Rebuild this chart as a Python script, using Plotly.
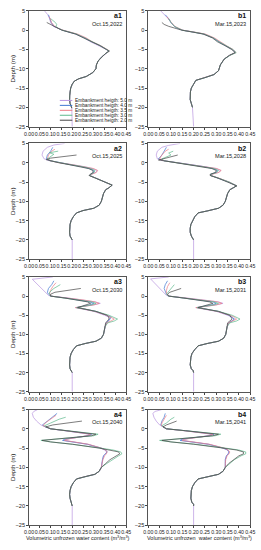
import plotly.graph_objects as go

W, H = 261, 550

HEIGHTS = ["5.0", "4.0", "3.5", "3.0", "2.0"]
LEG_TEXT = ["Embankment heigth: 5.0 m", "Embankment heigth: 4.0 m", "Embankment heigth: 3.5 m",
            "Embankment heigth: 3.0 m", "Embankment heigth: 2.0 m"]
COLORS = ["#B995E0", "#3F78D2", "#EE7C86", "#5DB98C", "#454545"]

PANELS = ["a1", "b1", "a2", "b2", "a3", "b3", "a4", "b4"]
DATES = ["Oct.15,2022", "Mar.15,2023", "Oct.15,2025", "Mar.15,2028",
         "Oct.15,2030", "Mar.15,2031", "Oct.15,2040", "Mar.15,2041"]

X_TICKS = [0.0, 0.05, 0.10, 0.15, 0.20, 0.25, 0.30, 0.35, 0.40, 0.45]
X_TICK_TEXT = ["0.00", "0.05", "0.10", "0.15", "0.20", "0.25", "0.30", "0.35", "0.40", "0.45"]
Y_TICKS = [5, 0, -5, -10, -15, -20, -25]
BOTTOM_D = [-25]
BOTTOM_X = [0.2]

# ---------------- a1 ----------------
A1_TOP = {
    "5.0": ([5, 4.5, 4, 3, 2, 1, 0.5], [0.072, 0.08, 0.087, 0.095, 0.1, 0.112, 0.13]),
    "4.0": ([4, 3, 2, 1, 0.5], [0.09, 0.097, 0.103, 0.115, 0.132]),
    "3.5": ([3.5, 3, 2, 1, 0.5], [0.093, 0.098, 0.104, 0.118, 0.135]),
    "3.0": ([3, 2.5, 2, 1.5, 1, 0.5], [0.1, 0.112, 0.122, 0.128, 0.125, 0.135]),
    "2.0": ([2, 1.5, 1, 0.5], [0.082, 0.098, 0.115, 0.132]),
}
A1_MID_D = [0, -1, -2, -3, -4, -5, -5.4, -6, -7]
A1_MID = {
    "5.0": [0.155, 0.215, 0.255, 0.285, 0.325, 0.358, 0.37, 0.355, 0.335],
    "4.0": [0.155, 0.22, 0.26, 0.29, 0.33, 0.36, 0.372, 0.357, 0.335],
    "3.5": [0.158, 0.225, 0.265, 0.293, 0.332, 0.362, 0.373, 0.357, 0.335],
    "3.0": [0.155, 0.22, 0.258, 0.288, 0.33, 0.36, 0.372, 0.356, 0.335],
    "2.0": [0.152, 0.215, 0.255, 0.287, 0.328, 0.358, 0.37, 0.355, 0.335],
}
A1_TAIL_D = [-8, -9, -10, -11, -12, -12.6, -13.2, -14, -15, -16, -17, -18, -19, -19.6, -20.2]
A1_TAIL_X = [0.32, 0.312, 0.31, 0.295, 0.265, 0.23, 0.21, 0.2, 0.193, 0.19, 0.188, 0.188, 0.19, 0.195, 0.198]

# ---------------- b1 ----------------
B1_TOP = {
    "5.0": ([5, 4, 3, 2, 1, 0.5], [0.055, 0.072, 0.088, 0.1, 0.115, 0.13]),
    "4.0": ([4, 3, 2, 1, 0.5], [0.075, 0.09, 0.1, 0.115, 0.13]),
    "3.5": ([3.5, 3, 2, 1, 0.5], [0.082, 0.09, 0.102, 0.117, 0.132]),
    "3.0": ([3, 2.5, 2, 1, 0.5], [0.09, 0.095, 0.1, 0.115, 0.13]),
    "2.0": ([2, 1.5, 1, 0.5], [0.06, 0.07, 0.09, 0.115]),
}
B1_MID_D = [0, -0.5, -1, -2, -3, -4, -5, -5.8, -6.5]
B1_MID = {
    "5.0": [0.15, 0.2, 0.245, 0.285, 0.31, 0.34, 0.37, 0.385, 0.36],
    "4.0": [0.15, 0.202, 0.248, 0.288, 0.312, 0.342, 0.372, 0.386, 0.36],
    "3.5": [0.152, 0.205, 0.252, 0.292, 0.316, 0.345, 0.374, 0.387, 0.36],
    "3.0": [0.15, 0.2, 0.246, 0.287, 0.312, 0.343, 0.373, 0.388, 0.362],
    "2.0": [0.148, 0.197, 0.242, 0.283, 0.305, 0.338, 0.368, 0.383, 0.358],
}
B1_TAIL_D = [-7.5, -9, -10.5, -11.5, -12.3, -13, -14, -15, -16, -17, -18, -19, -20]
B1_TAIL_X = [0.335, 0.318, 0.31, 0.29, 0.25, 0.21, 0.2, 0.19, 0.186, 0.185, 0.185, 0.19, 0.195]

# ---------------- a2 ----------------
A2_TOP = {
    "5.0": ([5, 4.6, 4, 3, 2, 1, 0.5], [0.165, 0.115, 0.085, 0.065, 0.06, 0.07, 0.095]),
    "4.0": ([4, 3, 2, 1, 0.5], [0.11, 0.1, 0.085, 0.08, 0.1]),
    "3.5": ([3.5, 3, 2, 1, 0.5], [0.12, 0.105, 0.09, 0.085, 0.1]),
    "3.0": ([3, 2.6, 2.2, 1.5, 1, 0.5], [0.135, 0.095, 0.115, 0.1, 0.085, 0.1]),
    "2.0": ([2, 1.6, 1.2, 0.8, 0.5], [0.22, 0.15, 0.1, 0.08, 0.1]),
}
A2_MID_D = [0, -0.5, -1, -1.5, -2, -2.5, -3, -3.3, -4, -5]
A2_MID = {
    "5.0": [0.14, 0.2, 0.255, 0.295, 0.315, 0.31, 0.29, 0.28, 0.31, 0.35],
    "4.0": [0.14, 0.19, 0.24, 0.28, 0.3, 0.3, 0.285, 0.28, 0.31, 0.35],
    "3.5": [0.14, 0.2, 0.258, 0.298, 0.318, 0.312, 0.29, 0.28, 0.31, 0.352],
    "3.0": [0.14, 0.192, 0.245, 0.285, 0.305, 0.302, 0.287, 0.28, 0.31, 0.352],
    "2.0": [0.138, 0.186, 0.235, 0.275, 0.295, 0.297, 0.283, 0.278, 0.308, 0.348],
}
A2_TAIL_D = [-5.8, -6.5, -7, -8, -9, -10, -11, -11.8, -12.4, -13, -14, -15, -16, -17, -18, -19, -19.6, -20]
A2_TAIL_X = [0.385, 0.37, 0.355, 0.345, 0.34, 0.335, 0.325, 0.3, 0.25, 0.22, 0.205, 0.195, 0.19, 0.188, 0.188, 0.19, 0.198, 0.2]

# ---------------- b2 ----------------
B2_TOP = {
    "5.0": ([5, 4.5, 4, 3, 2, 1, 0.5], [0.14, 0.09, 0.06, 0.04, 0.035, 0.04, 0.07]),
    "4.0": ([4, 3, 2, 1, 0.5], [0.08, 0.07, 0.06, 0.045, 0.07]),
    "3.5": ([3.5, 3, 2, 1, 0.5], [0.09, 0.075, 0.06, 0.05, 0.07]),
    "3.0": ([3, 2.5, 2, 1.5, 1, 0.5], [0.11, 0.09, 0.1, 0.08, 0.06, 0.07]),
    "2.0": ([2, 1.5, 1, 0.7, 0.5], [0.13, 0.1, 0.06, 0.045, 0.07]),
}
B2_MID_D = [0, -0.5, -1, -1.5, -2, -2.5, -3, -3.3, -4, -5]
B2_MID = {
    "5.0": [0.13, 0.2, 0.26, 0.3, 0.32, 0.31, 0.28, 0.275, 0.31, 0.355],
    "4.0": [0.13, 0.19, 0.245, 0.285, 0.305, 0.3, 0.275, 0.275, 0.31, 0.355],
    "3.5": [0.13, 0.2, 0.262, 0.302, 0.322, 0.312, 0.28, 0.275, 0.312, 0.357],
    "3.0": [0.13, 0.192, 0.25, 0.29, 0.31, 0.303, 0.277, 0.275, 0.31, 0.357],
    "2.0": [0.128, 0.186, 0.24, 0.28, 0.3, 0.297, 0.273, 0.273, 0.308, 0.352],
}
B2_TAIL_D = [-6, -6.5, -7, -8, -9, -10, -11, -11.8, -12.5, -13, -14, -15, -16, -17, -18, -19, -19.5, -20]
B2_TAIL_X = [0.39, 0.375, 0.36, 0.35, 0.345, 0.34, 0.33, 0.31, 0.26, 0.22, 0.205, 0.195, 0.188, 0.185, 0.185, 0.19, 0.197, 0.2]

# ---------------- a3 ----------------
A3_TOP = {
    "5.0": ([5, 4.4, 0.2], [0.11, 0.015, 0.09]),
    "4.0": ([4, 3, 2, 1, 0.5], [0.115, 0.105, 0.09, 0.085, 0.09]),
    "3.5": ([3.5, 2.5, 1.5, 0.7], [0.125, 0.11, 0.1, 0.095]),
    "3.0": ([3, 2, 1, 0.5], [0.145, 0.115, 0.095, 0.095]),
    "2.0": ([2, 1.5, 1, 0.5], [0.24, 0.17, 0.12, 0.1]),
}
A3_MID_D = [0, -0.5, -1, -1.5, -1.9, -2.3, -2.7, -3, -3.3, -4, -5, -5.5, -6, -6.5, -7]
A3_MID = {
    "5.0": [0.1, 0.18, 0.25, 0.305, 0.33, 0.3, 0.25, 0.215, 0.24, 0.3, 0.35, 0.37, 0.375, 0.37, 0.36],
    "4.0": [0.1, 0.17, 0.235, 0.28, 0.3, 0.28, 0.245, 0.22, 0.25, 0.31, 0.36, 0.38, 0.375, 0.365, 0.358],
    "3.5": [0.1, 0.18, 0.25, 0.305, 0.325, 0.3, 0.25, 0.215, 0.245, 0.305, 0.36, 0.38, 0.395, 0.38, 0.36],
    "3.0": [0.1, 0.17, 0.24, 0.29, 0.31, 0.29, 0.25, 0.22, 0.25, 0.31, 0.37, 0.395, 0.41, 0.395, 0.365],
    "2.0": [0.1, 0.165, 0.225, 0.27, 0.285, 0.265, 0.235, 0.225, 0.25, 0.31, 0.36, 0.37, 0.37, 0.36, 0.355],
}
A3_TAIL_D = [-8, -9, -10, -11, -11.8, -12.4, -13, -14, -15, -16, -17, -18, -19, -19.6, -20]
A3_TAIL_X = [0.352, 0.35, 0.345, 0.335, 0.31, 0.26, 0.22, 0.205, 0.195, 0.19, 0.188, 0.188, 0.19, 0.198, 0.2]

# ---------------- b3 ----------------
B3_TOP = {
    "5.0": ([5, 4.5, 0.2], [0.09, 0.01, 0.08]),
    "4.0": ([4, 3, 2, 1, 0.5], [0.085, 0.075, 0.07, 0.075, 0.08]),
    "3.5": ([3.5, 2.5, 1.5, 0.7], [0.095, 0.085, 0.08, 0.08]),
    "3.0": ([3, 2, 1, 0.5], [0.115, 0.1, 0.085, 0.08]),
    "2.0": ([2, 1.5, 1, 0.5], [0.145, 0.12, 0.095, 0.085]),
}
B3_MID_D = [0, -0.5, -1, -1.5, -1.9, -2.3, -2.7, -3, -3.3, -4, -5, -5.5, -6, -6.5, -7]
B3_MID = {
    "5.0": [0.09, 0.17, 0.25, 0.31, 0.33, 0.3, 0.25, 0.21, 0.235, 0.3, 0.35, 0.37, 0.38, 0.37, 0.355],
    "4.0": [0.09, 0.16, 0.235, 0.285, 0.3, 0.28, 0.24, 0.215, 0.245, 0.31, 0.355, 0.37, 0.38, 0.37, 0.355],
    "3.5": [0.09, 0.17, 0.25, 0.305, 0.325, 0.3, 0.25, 0.21, 0.24, 0.305, 0.36, 0.38, 0.39, 0.375, 0.355],
    "3.0": [0.09, 0.16, 0.24, 0.29, 0.31, 0.29, 0.245, 0.215, 0.245, 0.31, 0.37, 0.39, 0.405, 0.39, 0.36],
    "2.0": [0.09, 0.155, 0.225, 0.27, 0.285, 0.265, 0.235, 0.22, 0.245, 0.31, 0.36, 0.365, 0.37, 0.36, 0.35],
}
B3_TAIL_D = [-8, -9, -10, -11, -11.8, -12.4, -13, -14, -15, -16, -17, -18, -19, -19.5, -20]
B3_TAIL_X = [0.348, 0.345, 0.342, 0.333, 0.31, 0.26, 0.22, 0.205, 0.193, 0.188, 0.185, 0.185, 0.19, 0.198, 0.2]

# ---------------- a4 ----------------
A4_TOP = {
    "5.0": ([5, 4.5, 4, 3, 2, 1, 0.5], [0.04, 0.022, 0.015, 0.02, 0.035, 0.055, 0.075]),
    "4.0": ([4, 3, 2, 1, 0.5], [0.13, 0.11, 0.085, 0.062, 0.075]),
    "3.5": ([3.5, 2.5, 1.5, 0.8], [0.125, 0.1, 0.075, 0.065]),
    "3.0": ([3, 2.5, 1.5, 0.8], [0.17, 0.14, 0.1, 0.072]),
    "2.0": ([2, 1.5, 1, 0.5], [0.245, 0.17, 0.11, 0.078]),
}
A4_MID_D = [0, -0.5, -1, -1.4, -1.8, -2.3, -2.7, -3, -3.4, -4, -5, -5.5, -6, -6.5, -7, -8, -9]
A4_MID = {
    "5.0": [0.1, 0.17, 0.24, 0.28, 0.27, 0.21, 0.17, 0.16, 0.2, 0.27, 0.33, 0.35, 0.36, 0.355, 0.345, 0.34, 0.338],
    "4.0": [0.1, 0.175, 0.25, 0.29, 0.275, 0.21, 0.165, 0.155, 0.2, 0.27, 0.335, 0.355, 0.362, 0.355, 0.345, 0.34, 0.338],
    "3.5": [0.1, 0.17, 0.245, 0.285, 0.27, 0.215, 0.175, 0.165, 0.21, 0.275, 0.335, 0.355, 0.362, 0.358, 0.35, 0.342, 0.338],
    "3.0": [0.1, 0.18, 0.27, 0.32, 0.3, 0.2, 0.1, 0.055, 0.1, 0.2, 0.33, 0.39, 0.425, 0.43, 0.415, 0.385, 0.36],
    "2.0": [0.1, 0.175, 0.26, 0.31, 0.29, 0.2, 0.1, 0.06, 0.1, 0.2, 0.325, 0.38, 0.415, 0.42, 0.405, 0.375, 0.355],
}
A4_TAIL_D = [-10, -11, -11.8, -12.4, -13, -14, -15, -16, -17, -18, -19, -19.6, -20]
A4_TAIL_X = [0.335, 0.325, 0.305, 0.26, 0.22, 0.205, 0.195, 0.19, 0.188, 0.19, 0.195, 0.2, 0.2]

# ---------------- b4 ----------------
B4_TOP = {
    "5.0": ([5, 4.5, 4, 3, 2, 1, 0.5], [0.06, 0.03, 0.02, 0.025, 0.035, 0.05, 0.065]),
    "4.0": ([4, 3, 2, 1, 0.5], [0.075, 0.07, 0.06, 0.055, 0.065]),
    "3.5": ([3.5, 2.5, 1.5, 0.8], [0.08, 0.07, 0.06, 0.058]),
    "3.0": ([3, 2.5, 1.5, 0.8], [0.115, 0.1, 0.08, 0.06]),
    "2.0": ([2, 1.5, 1, 0.5], [0.125, 0.1, 0.08, 0.065]),
}
B4_MID_D = [0, -0.5, -1, -1.4, -1.8, -2.3, -2.7, -3, -3.4, -4, -5, -5.5, -6, -6.5, -7, -8, -9]
B4_MID = {
    "5.0": [0.08, 0.16, 0.24, 0.28, 0.265, 0.2, 0.155, 0.145, 0.19, 0.265, 0.33, 0.35, 0.355, 0.352, 0.345, 0.34, 0.34],
    "4.0": [0.08, 0.165, 0.25, 0.29, 0.27, 0.2, 0.15, 0.14, 0.19, 0.265, 0.33, 0.35, 0.357, 0.353, 0.345, 0.34, 0.34],
    "3.5": [0.08, 0.16, 0.245, 0.285, 0.27, 0.205, 0.16, 0.15, 0.2, 0.27, 0.335, 0.352, 0.36, 0.356, 0.348, 0.342, 0.34],
    "3.0": [0.08, 0.17, 0.27, 0.32, 0.295, 0.19, 0.09, 0.05, 0.1, 0.21, 0.34, 0.4, 0.43, 0.43, 0.41, 0.38, 0.36],
    "2.0": [0.08, 0.165, 0.26, 0.31, 0.285, 0.19, 0.095, 0.06, 0.1, 0.2, 0.33, 0.39, 0.42, 0.42, 0.4, 0.375, 0.355],
}
B4_TAIL_D = [-10, -11, -11.8, -12.4, -13, -14, -15, -16, -17, -18, -19, -19.6, -20]
B4_TAIL_X = [0.34, 0.33, 0.31, 0.265, 0.22, 0.205, 0.195, 0.19, 0.188, 0.188, 0.192, 0.2, 0.2]

PANEL_DATA = [
    (A1_TOP, A1_MID_D, A1_MID, A1_TAIL_D, A1_TAIL_X),
    (B1_TOP, B1_MID_D, B1_MID, B1_TAIL_D, B1_TAIL_X),
    (A2_TOP, A2_MID_D, A2_MID, A2_TAIL_D, A2_TAIL_X),
    (B2_TOP, B2_MID_D, B2_MID, B2_TAIL_D, B2_TAIL_X),
    (A3_TOP, A3_MID_D, A3_MID, A3_TAIL_D, A3_TAIL_X),
    (B3_TOP, B3_MID_D, B3_MID, B3_TAIL_D, B3_TAIL_X),
    (A4_TOP, A4_MID_D, A4_MID, A4_TAIL_D, A4_TAIL_X),
    (B4_TOP, B4_MID_D, B4_MID, B4_TAIL_D, B4_TAIL_X),
]

# ---------------- layout geometry (pixels) ----------------
COL_X = [(25, 126), (149, 255)]
ROW_Y = [(8, 125), (142, 259), (277, 393), (411, 528)]
FONT = "Liberation Sans, Arial, sans-serif"


def px_x(p):
    return p / W


def px_y(p):
    return 1 - p / H


fig = go.Figure()
layout = dict(
    width=W, height=H, margin=dict(l=0, r=0, t=0, b=0),
    paper_bgcolor="white", plot_bgcolor="white", showlegend=False,
    font=dict(family=FONT, size=6, color="#222"),
)
annotations = []
shapes = []

for i, name in enumerate(PANELS):
    r, c = divmod(i, 2)
    x0, x1 = COL_X[c]
    y0, y1 = ROW_Y[r]
    n = i + 1
    xa = "x" if n == 1 else f"x{n}"
    ya = "y" if n == 1 else f"y{n}"
    top, mid_d, mid, tail_d, tail_x = PANEL_DATA[i]
    for k, h in enumerate(HEIGHTS):
        td, tx = top[h]
        d = list(td) + list(mid_d) + list(tail_d)
        x = list(tx) + list(mid[h]) + list(tail_x)
        if h == "5.0":
            d = d + BOTTOM_D
            x = x + BOTTOM_X
        fig.add_trace(go.Scatter(
            x=x, y=d, mode="lines", xaxis=xa, yaxis=ya,
            line=dict(color=COLORS[k], width=0.7), name=LEG_TEXT[k],
            showlegend=False, hoverinfo="skip"))
    axkey_x = "xaxis" if n == 1 else f"xaxis{n}"
    axkey_y = "yaxis" if n == 1 else f"yaxis{n}"
    layout[axkey_x] = dict(
        domain=[px_x(x0), px_x(x1)], anchor=ya, range=[0, 0.45],
        tickvals=X_TICKS, ticktext=X_TICK_TEXT, tickangle=0,
        ticks="outside", ticklen=2, tickwidth=0.8, tickcolor="#444",
        showline=True, linecolor="#555", linewidth=0.8, mirror=True,
        showgrid=False, zeroline=False,
        tickfont=dict(size=5.2, family=FONT, color="#222"))
    layout[axkey_y] = dict(
        domain=[px_y(y1), px_y(y0)], anchor=xa, range=[-25, 5],
        tickvals=Y_TICKS, ticks="outside", ticklen=2, tickwidth=0.8, tickcolor="#444",
        showline=True, linecolor="#555", linewidth=0.8, mirror=True,
        showgrid=False, zeroline=False,
        tickfont=dict(size=5.6, family=FONT, color="#222"))
    annotations.append(dict(
        text=f"<b>{name}</b>", x=px_x(x1 - 2), y=px_y(y0 + 5),
        xref="paper", yref="paper", xanchor="right", yanchor="middle",
        showarrow=False, font=dict(size=7, family=FONT, color="#111")))
    annotations.append(dict(
        text=DATES[i], x=px_x(x1 - 2), y=px_y(y0 + 13),
        xref="paper", yref="paper", xanchor="right", yanchor="middle",
        showarrow=False, font=dict(size=5.6, family=FONT, color="#222")))
    if c == 0:
        annotations.append(dict(
            text="Depth (m)", x=px_x(8), y=px_y((y0 + y1) / 2),
            xref="paper", yref="paper", xanchor="center", yanchor="middle",
            textangle=-90, showarrow=False,
            font=dict(size=6.2, family=FONT, color="#222")))

annotations.append(dict(
    text="Volumetric unfrozen water content (m<sup>3</sup>/m<sup>3</sup>)",
    x=px_x((COL_X[0][0] + COL_X[0][1]) / 2), y=px_y(541),
    xref="paper", yref="paper", xanchor="center", yanchor="middle",
    showarrow=False, font=dict(size=5.5, family=FONT, color="#222")))
annotations.append(dict(
    text="Volumetric unfrozen  water content (m<sup>3</sup>/m<sup>3</sup>)",
    x=px_x((COL_X[1][0] + COL_X[1][1]) / 2), y=px_y(541),
    xref="paper", yref="paper", xanchor="center", yanchor="middle",
    showarrow=False, font=dict(size=5.5, family=FONT, color="#222")))

# manual legend inside panel a1
LEG_ROWS = [98.5, 103.5, 108.5, 113.5, 118.5]
for k in range(len(HEIGHTS)):
    yy = px_y(LEG_ROWS[k])
    shapes.append(dict(type="line", xref="paper", yref="paper",
                       x0=px_x(57), x1=px_x(70), y0=yy, y1=yy,
                       line=dict(color=COLORS[k], width=1)))
    annotations.append(dict(
        text=LEG_TEXT[k], x=px_x(70.5), y=yy, xref="paper", yref="paper",
        xanchor="left", yanchor="middle", showarrow=False,
        font=dict(size=4.8, family=FONT, color="#222")))

layout["annotations"] = annotations
layout["shapes"] = shapes
fig.update_layout(**layout)
fig.write_html("out.html", config={"displayModeBar": False},
               post_script="document.body.style.margin='0';document.body.style.overflow='hidden';")
